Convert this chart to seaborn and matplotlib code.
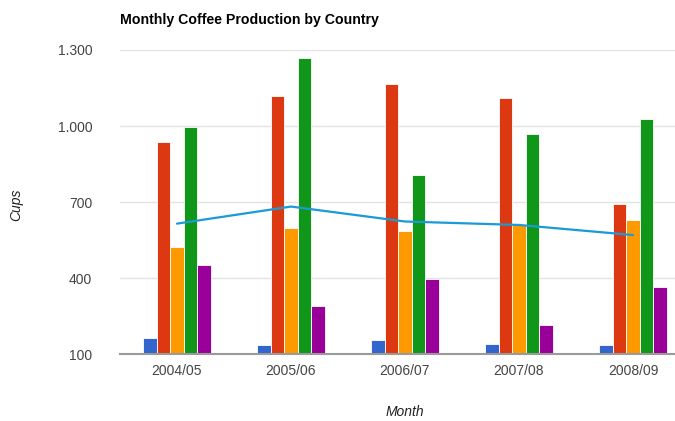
import numpy as np
import pandas as pd
import matplotlib
matplotlib.use("Agg")
import matplotlib.pyplot as plt
from matplotlib.ticker import FuncFormatter, FixedLocator
import seaborn as sns

months = ["2004/05", "2005/06", "2006/07", "2007/08", "2008/09"]
bolivia = [165, 135, 157, 139, 136]
ecuador = [938, 1120, 1167, 1110, 691]
madagascar = [522, 599, 587, 615, 629]
papua_new_guinea = [998, 1268, 807, 968, 1026]
rwanda = [450, 288, 397, 215, 366]
average = [614.6, 682, 623, 609.4, 569.6]

countries = ["Bolivia", "Ecuador", "Madagascar", "Papua New Guinea", "Rwanda"]
series = [bolivia, ecuador, madagascar, papua_new_guinea, rwanda]
colors = ["#3366cc", "#dc3912", "#ff9900", "#109618", "#990099"]

df = pd.DataFrame(
    [(m, c, v) for c, vals in zip(countries, series) for m, v in zip(months, vals)],
    columns=["Month", "Country", "Cups"],
)

sns.set_theme(style="white")
plt.rcParams["font.family"] = ["Liberation Sans", "DejaVu Sans"]

W, H = 675, 421
fig = plt.figure(figsize=(W / 100, H / 100), dpi=100)
left, right, top, bottom = 120, 690, 50, 354
ax = fig.add_axes([left / W, (H - bottom) / H, (right - left) / W, (bottom - top) / H])

sns.barplot(
    data=df, x="Month", y="Cups", hue="Country", order=months,
    hue_order=countries, palette=colors, width=0.59, dodge=True,
    saturation=1, edgecolor="white", linewidth=0.6, legend=False, ax=ax,
)
sns.lineplot(x=np.arange(len(months)), y=average, color="#1a9ad6",
             linewidth=1.6, ax=ax)

ax.set_xlim(-0.5, len(months) - 0.5)
ax.set_ylim(100, 1300)
ax.yaxis.set_major_locator(FixedLocator([100, 400, 700, 1000, 1300]))
ax.yaxis.set_major_formatter(FuncFormatter(lambda v, _: f"{v:,.0f}".replace(",", ".")))
ax.grid(axis="y", color="#e3e3e3", linewidth=1)
ax.set_axisbelow(True)
for s in ["top", "right", "left"]:
    ax.spines[s].set_visible(False)
ax.spines["bottom"].set_color("#9a9a9a")
ax.spines["bottom"].set_linewidth(1.5)
ax.spines["bottom"].set_zorder(5)
ax.tick_params(axis="both", length=0, labelsize=10, colors="#444444")
ax.tick_params(axis="y", pad=20)
ax.tick_params(axis="x", pad=7)
ax.set_xlabel("")
ax.set_ylabel("")

fig.text(120 / W, 1 - 20 / H, "Monthly Coffee Production by Country",
         fontsize=10.2, fontweight="bold", color="#000000", va="center", ha="left")
fig.text(16 / W, 1 - 205 / H, "Cups", rotation=90, style="italic",
         fontsize=10, color="#222222", va="center", ha="center")
fig.text(405 / W, 1 - 412 / H, "Month", style="italic",
         fontsize=10, color="#222222", va="center", ha="center")

fig.savefig("out.png", dpi=100)
